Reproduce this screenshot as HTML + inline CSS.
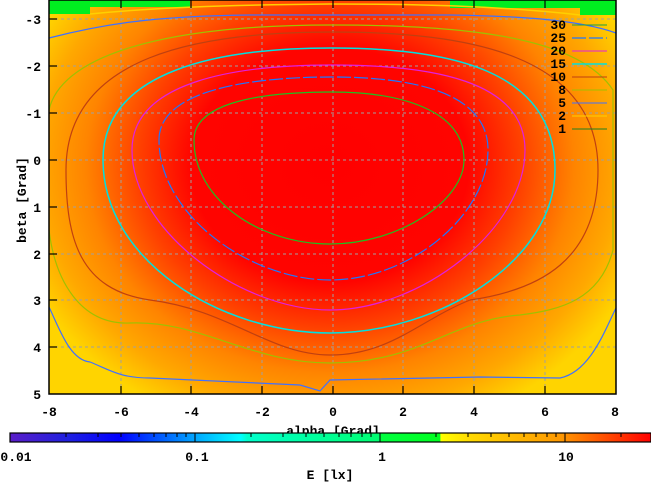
<!DOCTYPE html>
<html><head><style>
body{margin:0;background:#fff;}
svg text{font-family:"Liberation Mono",monospace;font-weight:bold;font-size:13px;fill:#000;}
</style></head><body>
<svg width="651" height="483" xmlns="http://www.w3.org/2000/svg">
<defs>
<radialGradient id="hm" cx="330" cy="165" r="330" gradientUnits="userSpaceOnUse" gradientTransform="translate(330 165) scale(1 0.85) translate(-330 -165)">
<stop offset="0" stop-color="#ff0000"/>
<stop offset="0.42" stop-color="#ff0400"/>
<stop offset="0.58" stop-color="#ff4000"/>
<stop offset="0.74" stop-color="#ff8400"/>
<stop offset="0.88" stop-color="#ffa800"/>
<stop offset="1" stop-color="#ffd400"/>
</radialGradient>
<linearGradient id="cb" x1="10" x2="651" y1="0" y2="0" gradientUnits="userSpaceOnUse">
<stop offset="0" stop-color="#5a1ec8"/>
<stop offset="0.09" stop-color="#2020e0"/>
<stop offset="0.17" stop-color="#0000ff"/>
<stop offset="0.29" stop-color="#00a8ff"/>
<stop offset="0.36" stop-color="#00ffff"/>
<stop offset="0.37" stop-color="#00ffcc"/>
<stop offset="0.577" stop-color="#00ff70"/>
<stop offset="0.578" stop-color="#00ff40"/>
<stop offset="0.671" stop-color="#00ff20"/>
<stop offset="0.672" stop-color="#ffff00"/>
<stop offset="0.72" stop-color="#ffd800"/>
<stop offset="0.86" stop-color="#ff9800"/>
<stop offset="1" stop-color="#ff0000"/>
</linearGradient>
</defs>
<rect x="49" y="0" width="567" height="394" fill="url(#hm)"/>
<path d="M49,0 H190 V7 H90 V14 H49Z" fill="#00ee20"/>
<path d="M450,0 H616 V15 H580 V8 H450Z" fill="#00ee20"/>
<path d="M90,14 C150,8 220,5 330,4 C420,4 500,6 580,15" fill="none" stroke="#ffd000" stroke-width="1.5"/>
<g stroke="#a0a0a0" stroke-dasharray="3,3" stroke-width="1">
<line x1="121" y1="0" x2="121" y2="394"/><line x1="191" y1="0" x2="191" y2="394"/>
<line x1="262" y1="0" x2="262" y2="394"/><line x1="333" y1="0" x2="333" y2="394"/>
<line x1="403" y1="0" x2="403" y2="394"/><line x1="474" y1="0" x2="474" y2="394"/>
<line x1="545" y1="0" x2="545" y2="394"/>
<line x1="49" y1="19" x2="616" y2="19"/><line x1="49" y1="66" x2="616" y2="66"/>
<line x1="49" y1="113" x2="616" y2="113"/><line x1="49" y1="160" x2="616" y2="160"/>
<line x1="49" y1="207" x2="616" y2="207"/><line x1="49" y1="254" x2="616" y2="254"/>
<line x1="49" y1="300" x2="616" y2="300"/><line x1="49" y1="347" x2="616" y2="347"/>
</g>
<g fill="none" stroke-width="1.2">
<path d="M194,140 C194,100 270,92 332,92 C400,92 464,110 464,160 C464,200 400,244 330,244 C260,244 194,200 194,140Z" stroke="#20c020"/>
<path d="M159,140 C159,90 250,77 332,77 C420,77 488,95 488,150 C488,215 410,280 330,280 C250,280 159,215 159,140Z" stroke="#1e78ff" stroke-dasharray="14,3"/>
<path d="M132,150 C132,80 240,65 332,65 C430,65 525,80 525,150 C525,230 420,310 330,310 C240,310 132,230 132,150Z" stroke="#e020e0"/>
<path d="M103,160 C103,70 220,48 332,48 C450,48 555,70 555,170 C555,260 440,333 330,333 C220,333 103,260 103,160Z" stroke="#00e0e0" stroke-width="1.5"/>
<path d="M66,170 C66,55 200,32 332,32 C470,32 598,55 598,170 C598,260 540,290 470,300 C420,320 390,355 330,355 C270,355 230,310 150,300 C80,290 66,240 66,170Z" stroke="#c04010"/>
<path d="M49,110 C60,60 150,25 332,25 C480,25 580,40 613,90 L613,250 C600,300 560,310 520,315 C450,320 420,363 330,363 C250,363 200,320 130,323 C80,325 55,280 49,230" stroke="#a0c000"/>
<path d="M49,38 C100,25 150,16 250,15 L450,15 C520,16 580,20 616,33" stroke="#4070ff"/>
<path d="M49,307 C60,330 70,360 90,362 C110,370 120,378 150,378 L300,385 L320,391 L330,380 L480,377 L560,378 C590,372 605,330 616,308" stroke="#4070ff"/>
</g>
<g>
<text x="566" y="29" text-anchor="end">30</text><line x1="572" y1="25" x2="607" y2="25" stroke="#20a040"/>
<text x="566" y="42" text-anchor="end">25</text><line x1="572" y1="38" x2="607" y2="38" stroke="#1e78ff" stroke-dasharray="14,3" stroke-width="1.3"/>
<text x="566" y="55" text-anchor="end">20</text><line x1="572" y1="51" x2="607" y2="51" stroke="#e020e0"/>
<text x="566" y="68" text-anchor="end">15</text><line x1="572" y1="64" x2="607" y2="64" stroke="#00e0e0" stroke-width="1.5"/>
<text x="566" y="81" text-anchor="end">10</text><line x1="572" y1="77" x2="607" y2="77" stroke="#c04010"/>
<text x="566" y="94" text-anchor="end">8</text><line x1="572" y1="90" x2="607" y2="90" stroke="#a0c000"/>
<text x="566" y="107" text-anchor="end">5</text><line x1="572" y1="103" x2="607" y2="103" stroke="#4070ff"/>
<text x="566" y="120" text-anchor="end">2</text><line x1="572" y1="116" x2="607" y2="116" stroke="#ffd000"/>
<text x="566" y="133" text-anchor="end">1</text><line x1="572" y1="129" x2="607" y2="129" stroke="#208020"/>
</g>
<rect x="49" y="0" width="567" height="394" fill="none" stroke="#000" stroke-width="1.5"/>
<g stroke="#000" stroke-width="1.2">
<line x1="49" y1="19" x2="57" y2="19"/><line x1="49" y1="66" x2="57" y2="66"/><line x1="49" y1="113" x2="57" y2="113"/>
<line x1="49" y1="160" x2="57" y2="160"/><line x1="49" y1="207" x2="57" y2="207"/><line x1="49" y1="254" x2="57" y2="254"/>
<line x1="49" y1="300" x2="57" y2="300"/><line x1="49" y1="347" x2="57" y2="347"/>
<line x1="121" y1="394" x2="121" y2="386"/><line x1="191" y1="394" x2="191" y2="386"/><line x1="262" y1="394" x2="262" y2="386"/>
<line x1="333" y1="394" x2="333" y2="386"/><line x1="403" y1="394" x2="403" y2="386"/><line x1="474" y1="394" x2="474" y2="386"/>
<line x1="545" y1="394" x2="545" y2="386"/>
<line x1="121" y1="0" x2="121" y2="8"/><line x1="191" y1="0" x2="191" y2="8"/><line x1="262" y1="0" x2="262" y2="8"/>
<line x1="333" y1="0" x2="333" y2="8"/><line x1="403" y1="0" x2="403" y2="8"/><line x1="474" y1="0" x2="474" y2="8"/>
<line x1="545" y1="0" x2="545" y2="8"/>
</g>
<g text-anchor="end">
<text x="41" y="24">-3</text><text x="41" y="71">-2</text><text x="41" y="118">-1</text>
<text x="41" y="165">0</text><text x="41" y="212">1</text><text x="41" y="259">2</text>
<text x="41" y="305">3</text><text x="41" y="352">4</text><text x="41" y="399">5</text>
</g>
<g text-anchor="middle">
<text x="49" y="416">-8</text><text x="121" y="416">-6</text><text x="191" y="416">-4</text>
<text x="262" y="416">-2</text><text x="333" y="416">0</text><text x="403" y="416">2</text>
<text x="474" y="416">4</text><text x="545" y="416">6</text><text x="615" y="416">8</text>
<text x="333" y="435">alpha [Grad]</text>
<text x="26" y="200" transform="rotate(-90 26 200)">beta [Grad]</text>
</g>
<rect x="10" y="433" width="641" height="9" fill="url(#cb)" stroke="#000" stroke-width="1.2"/>
<g stroke="#000" stroke-width="1">
<line x1="66" y1="433" x2="66" y2="437"/><line x1="98" y1="433" x2="98" y2="437"/><line x1="121" y1="433" x2="121" y2="437"/>
<line x1="139" y1="433" x2="139" y2="437"/><line x1="154" y1="433" x2="154" y2="437"/><line x1="166" y1="433" x2="166" y2="437"/>
<line x1="177" y1="433" x2="177" y2="437"/><line x1="186" y1="433" x2="186" y2="437"/><line x1="195" y1="433" x2="195" y2="442"/>
<line x1="251" y1="433" x2="251" y2="437"/><line x1="283" y1="433" x2="283" y2="437"/><line x1="306" y1="433" x2="306" y2="437"/>
<line x1="324" y1="433" x2="324" y2="437"/><line x1="339" y1="433" x2="339" y2="437"/><line x1="351" y1="433" x2="351" y2="437"/>
<line x1="362" y1="433" x2="362" y2="437"/><line x1="371" y1="433" x2="371" y2="437"/><line x1="380" y1="433" x2="380" y2="442"/>
<line x1="436" y1="433" x2="436" y2="437"/><line x1="468" y1="433" x2="468" y2="437"/><line x1="491" y1="433" x2="491" y2="437"/>
<line x1="509" y1="433" x2="509" y2="437"/><line x1="524" y1="433" x2="524" y2="437"/><line x1="536" y1="433" x2="536" y2="437"/>
<line x1="547" y1="433" x2="547" y2="437"/><line x1="556" y1="433" x2="556" y2="437"/><line x1="565" y1="433" x2="565" y2="442"/>
<line x1="621" y1="433" x2="621" y2="437"/>
</g>
<g text-anchor="middle">
<text x="16" y="461">0.01</text><text x="197" y="461">0.1</text><text x="382" y="461">1</text><text x="566" y="461">10</text>
<text x="330" y="479">E [lx]</text>
</g>
</svg>
</body></html>
